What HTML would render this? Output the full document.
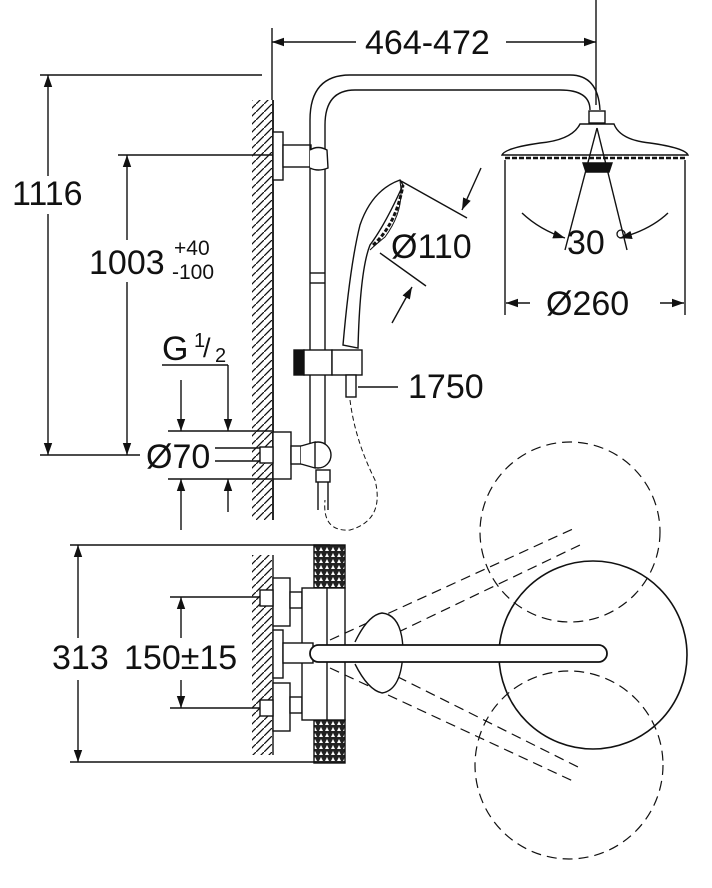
<!DOCTYPE html>
<html><head><meta charset="utf-8"><style>
html,body{margin:0;padding:0;background:#fff;width:712px;height:888px;overflow:hidden}
svg{display:block}
text{font-family:"Liberation Sans",sans-serif;fill:#111}
</style></head><body>
<svg width="712" height="888" viewBox="0 0 712 888" xmlns="http://www.w3.org/2000/svg">
<defs>
<marker id="a" viewBox="0 0 10 10" refX="10" refY="5" markerWidth="12" markerHeight="12" orient="auto-start-reverse" markerUnits="userSpaceOnUse"><path d="M0,1.5 L10,5 L0,8.5 Z" fill="#111"/></marker>
<pattern id="h" width="8" height="8" patternUnits="userSpaceOnUse"><path d="M-2,10 L10,-2" stroke="#111" stroke-width="1.3"/></pattern>
<pattern id="ins" width="6" height="6" patternUnits="userSpaceOnUse"><rect width="6" height="6" fill="#222"/><path d="M1,5 L3,1 L5,5Z" fill="#fff"/></pattern>
</defs>
<g stroke="#111" stroke-width="1.4" fill="none">
<line x1="272" y1="28" x2="272" y2="100"/>
<line x1="596" y1="0" x2="596" y2="105"/>
<line x1="272" y1="42" x2="356" y2="42" marker-start="url(#a)"/>
<line x1="506" y1="42" x2="596" y2="42" marker-end="url(#a)"/>
<line x1="40" y1="75" x2="262" y2="75"/>
<line x1="48" y1="75" x2="48" y2="176" marker-start="url(#a)"/>
<line x1="48" y1="214" x2="48" y2="455" marker-end="url(#a)"/>
<line x1="40" y1="455" x2="140" y2="455"/>
<line x1="118" y1="155" x2="280" y2="155"/>
<line x1="127" y1="155" x2="127" y2="240" marker-start="url(#a)"/>
<line x1="127" y1="282" x2="127" y2="455" marker-end="url(#a)"/>
<line x1="162" y1="365" x2="228" y2="365"/>
<line x1="228" y1="365" x2="228" y2="431" marker-end="url(#a)"/>
<line x1="228" y1="479" x2="228" y2="512" marker-start="url(#a)"/>
<line x1="181" y1="380" x2="181" y2="431" marker-end="url(#a)"/>
<line x1="181" y1="479" x2="181" y2="530" marker-start="url(#a)"/>
<line x1="168" y1="431" x2="272" y2="431"/>
<line x1="168" y1="479" x2="272" y2="479"/>
<line x1="215" y1="448" x2="270" y2="448"/>
<line x1="215" y1="461" x2="270" y2="461"/>
<rect x="252" y="100" width="20" height="420" fill="url(#h)" stroke="none"/>
<line x1="273" y1="100" x2="273" y2="520" stroke-width="1.8"/>
<rect x="273" y="132" width="10" height="48" fill="#fff"/>
<rect x="283" y="145" width="28" height="22" fill="#fff"/>
<path d="M310,450 L310,120 Q310,75 350,75 L570,75 Q598,75 600,110"/>
<path d="M325,450 L325,125 Q325,90 355,90 L560,90 Q590,90 590,110"/>
<path d="M310,150 Q318,145 327,150 L328,168 Q318,172 310,168" fill="#fff"/>
<line x1="310" y1="273" x2="325" y2="273"/><line x1="310" y1="283" x2="325" y2="283"/>
<rect x="589" y="111" width="16" height="12" fill="#fff"/>
<path d="M580,124 L614,124 Q620,140 650,143 Q685,148 688,155 L502,155 Q505,148 540,143 Q572,140 580,124Z" fill="#fff"/>
<line x1="505" y1="158" x2="686" y2="158" stroke-dasharray="5,2" stroke-width="2.5"/>
<path d="M583,163 L612,163 L609,172 L586,172Z" fill="#111"/>
<line x1="597" y1="128" x2="565" y2="250"/>
<line x1="597" y1="128" x2="627" y2="250"/>
<path d="M522,213 Q540,230 565,238" marker-end="url(#a)"/>
<path d="M668,213 Q650,230 620,238" marker-end="url(#a)"/>
<line x1="505" y1="160" x2="505" y2="315"/>
<line x1="685" y1="160" x2="685" y2="315"/>
<line x1="530" y1="303" x2="506" y2="303" marker-end="url(#a)"/>
<line x1="660" y1="303" x2="684" y2="303" marker-end="url(#a)"/>
<path d="M400,180 Q372,190 360,225 Q350,265 343,345 L358,348 Q360,270 370,245 Q385,225 403,185Z" fill="#fff"/>
<path d="M400,181 Q405,210 385,237 Q375,245 370,250" stroke-width="1"/>
<path d="M373,245 Q396,225 403,185" stroke-dasharray="4,2" stroke-width="3"/>
<line x1="401" y1="181" x2="467" y2="218"/>
<line x1="380" y1="253" x2="426" y2="286"/>
<line x1="481" y1="168" x2="462" y2="210" marker-end="url(#a)"/>
<line x1="392" y1="323" x2="412" y2="287" marker-end="url(#a)"/>
<rect x="294" y="350" width="10" height="25" fill="#111"/>
<rect x="304" y="350" width="28" height="25" fill="#fff"/>
<rect x="332" y="350" width="30" height="25" fill="#fff"/>
<rect x="346" y="375" width="10" height="22" fill="#fff"/>
<line x1="358" y1="387" x2="398" y2="387"/>
<path d="M350,400 Q355,440 375,480 Q385,520 350,530 Q322,532 325,500" stroke-dasharray="5,3" stroke-width="1"/>
<rect x="273" y="432" width="18" height="47" fill="#fff"/>
<rect x="260" y="447" width="13" height="16" fill="#fff"/>
<rect x="291" y="446" width="10" height="18" fill="#fff"/>
<circle cx="318" cy="455" r="13" fill="#fff"/>
<path d="M301,446 L315,442 L315,468 L301,464" fill="#fff"/>
<rect x="316" y="470" width="14" height="12" fill="#fff"/>
<line x1="318" y1="482" x2="318" y2="510"/><line x1="328" y1="482" x2="328" y2="510"/>
<line x1="70" y1="545" x2="330" y2="545"/>
<line x1="70" y1="762" x2="330" y2="762"/>
<line x1="78" y1="545" x2="78" y2="638" marker-start="url(#a)"/>
<line x1="78" y1="680" x2="78" y2="762" marker-end="url(#a)"/>
<line x1="170" y1="597" x2="270" y2="597"/>
<line x1="170" y1="708" x2="270" y2="708"/>
<line x1="181" y1="597" x2="181" y2="638" marker-start="url(#a)"/>
<line x1="181" y1="680" x2="181" y2="708" marker-end="url(#a)"/>
<rect x="252" y="555" width="20" height="200" fill="url(#h)" stroke="none"/>
<line x1="273" y1="555" x2="273" y2="755"/>
<rect x="273" y="578" width="17" height="48" fill="#fff"/>
<rect x="273" y="683" width="17" height="48" fill="#fff"/>
<rect x="273" y="630" width="10" height="48" fill="#fff"/>
<rect x="260" y="590" width="13" height="16" fill="#fff"/>
<rect x="260" y="700" width="13" height="16" fill="#fff"/>
<rect x="290" y="592" width="12" height="16" fill="#fff"/>
<rect x="290" y="697" width="12" height="16" fill="#fff"/>
<rect x="314" y="545" width="31" height="43" fill="url(#ins)"/>
<rect x="314" y="720" width="31" height="43" fill="url(#ins)"/>
<rect x="302" y="588" width="43" height="132" fill="#fff"/>
<line x1="327" y1="588" x2="327" y2="720"/>
<rect x="283" y="643" width="30" height="20" fill="#fff"/>
<path d="M330,640 L575,528 M340,660 L580,545" stroke-dasharray="10,6" stroke-width="1.2"/>
<path d="M330,668 L575,782 M340,648 L580,768" stroke-dasharray="10,6" stroke-width="1.2"/>
<circle cx="570" cy="532" r="90" stroke-dasharray="10,6" stroke-width="1.2"/>
<circle cx="569" cy="765" r="94" stroke-dasharray="10,6" stroke-width="1.2"/>
<path d="M355,642 Q368,615 382,613 Q402,615 403,650 Q402,690 382,693 Q368,690 355,664" fill="#fff"/>
<circle cx="593" cy="655" r="94" stroke-width="1.6"/>
<rect x="310" y="645" width="297" height="17" rx="8.5" fill="#fff" stroke-width="1.8"/>
</g>
<g font-size="34">
<text x="365" y="54">464-472</text>
<text x="12" y="205">1116</text>
<text x="89" y="274">1003</text>
<text x="146" y="468">Ø70</text>
<text x="162" y="360">G</text>
<text x="391" y="258">Ø110</text>
<text x="567" y="254">30</text>
<text x="546" y="315">Ø260</text>
<text x="408" y="398">1750</text>
<text x="52" y="669">313</text>
<text x="124" y="669">150±15</text>
</g>
<text x="174" y="255" font-size="21">+40</text>
<text x="172" y="279" font-size="21">-100</text>
<text x="194" y="347" font-size="20">1</text>
<text x="203" y="357" font-size="27">/</text>
<text x="215" y="362" font-size="20">2</text>
<circle cx="621" cy="234" r="4" fill="none" stroke="#111" stroke-width="1.3"/>
</svg>
</body></html>
